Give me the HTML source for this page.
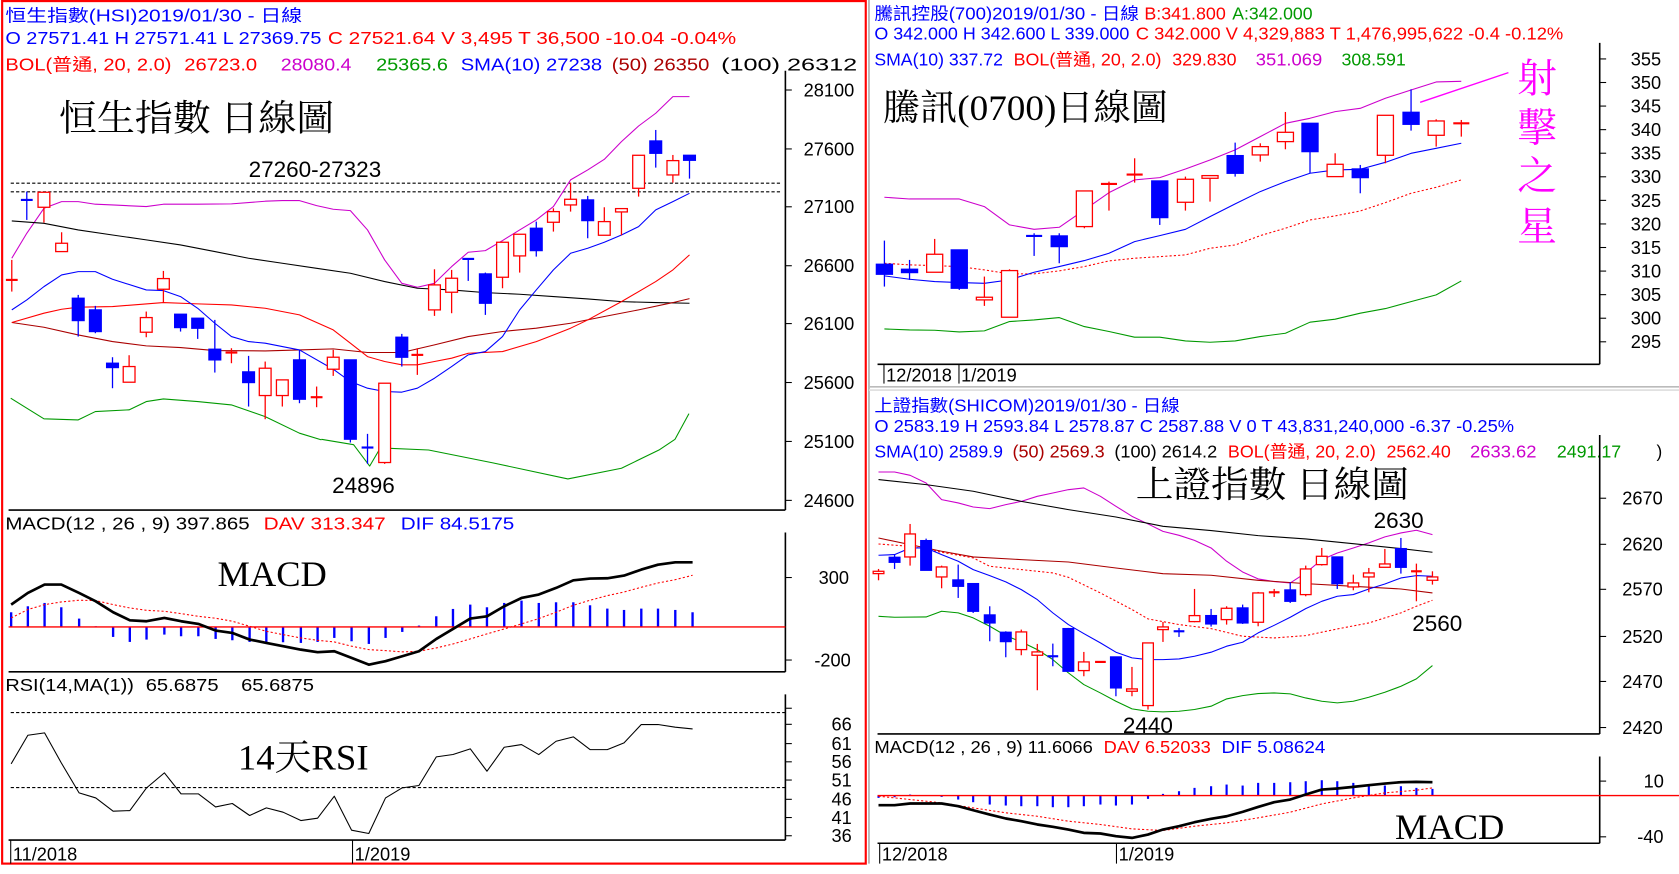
<!DOCTYPE html>
<html><head><meta charset="utf-8">
<style>
html,body{margin:0;padding:0;background:#fff;width:1679px;height:874px;overflow:hidden}
svg{display:block}
text{font-family:"Liberation Sans","Noto Sans CJK TC",sans-serif;font-size:16px}
.big{font-family:"Liberation Serif","Noto Serif CJK SC",serif;font-size:34px;fill:#000}
.star{font-family:"Liberation Serif","Noto Serif CJK SC",serif;font-size:37px;fill:#f0f}
.ax{font-size:17px;fill:#000}
</style></head><body>
<svg id="s" width="1679" height="874" viewBox="0 0 1567 815.7" xmlns="http://www.w3.org/2000/svg">
<rect x="0" y="0" width="1567" height="816" fill="#fff"/>
<rect x="2" y="1" width="806" height="805" fill="none" stroke="#f00" stroke-width="2"/>
<line x1="811" y1="0" x2="811" y2="806" stroke="#aaa" stroke-width="1.5"/>
<line x1="811" y1="361" x2="1567" y2="361" stroke="#bbb" stroke-width="1.5"/>
<line x1="811" y1="364" x2="1567" y2="364" stroke="#ddd" stroke-width="1.5"/>

<text x="5" y="20" fill="#00f" textLength="277" lengthAdjust="spacingAndGlyphs">恒生指數(HSI)2019/01/30 - 日線</text>
<text x="5" y="41" fill="#00f" textLength="295" lengthAdjust="spacingAndGlyphs">O 27571.41 H 27571.41 L 27369.75</text>
<text x="306" y="41" fill="#f00" textLength="381" lengthAdjust="spacingAndGlyphs">C 27521.64 V 3,495 T 36,500  -10.04  -0.04%</text>
<text x="5" y="66" fill="#f00" textLength="155" lengthAdjust="spacingAndGlyphs">BOL(普通, 20, 2.0)</text>
<text x="172" y="66" fill="#f00" textLength="68" lengthAdjust="spacingAndGlyphs">26723.0</text>
<text x="262" y="66" fill="#c0c" textLength="66" lengthAdjust="spacingAndGlyphs">28080.4</text>
<text x="351" y="66" fill="#090" textLength="67" lengthAdjust="spacingAndGlyphs">25365.6</text>
<text x="430" y="66" fill="#00f" textLength="132" lengthAdjust="spacingAndGlyphs">SMA(10) 27238</text>
<text x="571" y="66" fill="#a00" textLength="91" lengthAdjust="spacingAndGlyphs">(50) 26350</text>
<text x="673" y="66" fill="#000" textLength="127" lengthAdjust="spacingAndGlyphs">(100) 26312</text>
<text x="5" y="494" fill="#000" textLength="228" lengthAdjust="spacingAndGlyphs">MACD(12 , 26 , 9)  397.865</text>
<text x="246" y="494" fill="#f00" textLength="114" lengthAdjust="spacingAndGlyphs">DAV  313.347</text>
<text x="374" y="494" fill="#00f" textLength="106" lengthAdjust="spacingAndGlyphs">DIF  84.5175</text>
<text x="5" y="645" fill="#000" textLength="120" lengthAdjust="spacingAndGlyphs">RSI(14,MA(1))</text>
<text x="136" y="645" fill="#000" textLength="68" lengthAdjust="spacingAndGlyphs">65.6875</text>
<text x="225" y="645" fill="#000" textLength="68" lengthAdjust="spacingAndGlyphs">65.6875</text>

<text x="816" y="18" fill="#00f" textLength="247" lengthAdjust="spacingAndGlyphs">騰訊控股(700)2019/01/30 - 日線</text>
<text x="1068" y="18" fill="#f00" textLength="76" lengthAdjust="spacingAndGlyphs">B:341.800</text>
<text x="1150" y="18" fill="#090" textLength="75" lengthAdjust="spacingAndGlyphs">A:342.000</text>
<text x="816" y="37" fill="#00f" textLength="238" lengthAdjust="spacingAndGlyphs">O 342.000 H 342.600 L 339.000</text>
<text x="1060" y="37" fill="#f00" textLength="399" lengthAdjust="spacingAndGlyphs">C 342.000 V 4,329,883 T 1,476,995,622  -0.4  -0.12%</text>
<text x="816" y="61" fill="#00f" textLength="120" lengthAdjust="spacingAndGlyphs">SMA(10) 337.72</text>
<text x="946" y="61" fill="#f00" textLength="138" lengthAdjust="spacingAndGlyphs">BOL(普通, 20, 2.0)</text>
<text x="1094" y="61" fill="#f00" textLength="60" lengthAdjust="spacingAndGlyphs">329.830</text>
<text x="1172" y="61" fill="#c0c" textLength="62" lengthAdjust="spacingAndGlyphs">351.069</text>
<text x="1252" y="61" fill="#090" textLength="60" lengthAdjust="spacingAndGlyphs">308.591</text>

<text x="816" y="384" fill="#00f" textLength="285" lengthAdjust="spacingAndGlyphs">上證指數(SHICOM)2019/01/30 - 日線</text>
<text x="816" y="403" fill="#00f" textLength="597" lengthAdjust="spacingAndGlyphs">O 2583.19 H 2593.84 L 2578.87 C 2587.88 V 0 T 43,831,240,000  -6.37  -0.25%</text>
<text x="816" y="427" fill="#00f" textLength="120" lengthAdjust="spacingAndGlyphs">SMA(10) 2589.9</text>
<text x="945" y="427" fill="#a00" textLength="86" lengthAdjust="spacingAndGlyphs">(50) 2569.3</text>
<text x="1040" y="427" fill="#000" textLength="96" lengthAdjust="spacingAndGlyphs">(100) 2614.2</text>
<text x="1146" y="427" fill="#f00" textLength="138" lengthAdjust="spacingAndGlyphs">BOL(普通, 20, 2.0)</text>
<text x="1294" y="427" fill="#f00" textLength="60" lengthAdjust="spacingAndGlyphs">2562.40</text>
<text x="1372" y="427" fill="#c0c" textLength="62" lengthAdjust="spacingAndGlyphs">2633.62</text>
<text x="1453" y="427" fill="#090" textLength="60" lengthAdjust="spacingAndGlyphs">2491.17</text>
<text x="1546" y="427" fill="#000">)</text>
<text x="816" y="703" fill="#000" textLength="204" lengthAdjust="spacingAndGlyphs">MACD(12 , 26 , 9)  11.6066</text>
<text x="1030" y="703" fill="#f00" textLength="100" lengthAdjust="spacingAndGlyphs">DAV  6.52033</text>
<text x="1140" y="703" fill="#00f" textLength="97" lengthAdjust="spacingAndGlyphs">DIF  5.08624</text>

<text class="big" x="55" y="122" textLength="257" lengthAdjust="spacingAndGlyphs">恒生指數 日線圖</text>
<text x="232" y="165" style="font-size:21px" fill="#000">27260-27323</text>
<text x="310" y="460" style="font-size:21px" fill="#000">24896</text>
<text class="big" x="203" y="547">MACD</text>
<text class="big" x="222" y="718" textLength="122" lengthAdjust="spacingAndGlyphs">14天RSI</text>
<text class="big" x="824" y="112" textLength="266" lengthAdjust="spacingAndGlyphs">騰訊(0700)日線圖</text>
<text class="star" x="1416" y="86">射</text>
<text class="star" x="1416" y="132">擊</text>
<text class="star" x="1416" y="177">之</text>
<text class="star" x="1416" y="224">星</text>
<text class="big" x="1060" y="464" textLength="255" lengthAdjust="spacingAndGlyphs">上證指數 日線圖</text>
<text x="1282" y="493" style="font-size:21px" fill="#000">2630</text>
<text x="1318" y="589" style="font-size:21px" fill="#000">2560</text>
<text x="1048" y="684" style="font-size:21px" fill="#000">2440</text>
<text class="big" x="1302" y="783">MACD</text>

<g id="g"></g>
</svg>
<script>
var NS="http://www.w3.org/2000/svg",G=document.getElementById('g');
function el(t,a){var e=document.createElementNS(NS,t);for(var k in a)e.setAttribute(k,a[k]);G.appendChild(e);return e;}
function L(x1,y1,x2,y2,c,w,d){var o={x1:x1,y1:y1,x2:x2,y2:y2,stroke:c,'stroke-width':w||1};if(d)o['stroke-dasharray']=d;el('line',o);}
function T(x,y,s,c,cls,anchor){var e=el('text',{x:x,y:y,fill:c||'#000'});if(cls)e.setAttribute('class',cls);if(anchor)e.setAttribute('text-anchor',anchor);e.textContent=s;}
function poly(pts,fx,fy,c,w,d){var s=pts.map(function(p){return fx(p[0]).toFixed(1)+','+fy(p[1]).toFixed(1)}).join(' ');var o={points:s,fill:'none',stroke:c,'stroke-width':w||1,'stroke-linejoin':'round'};if(d)o['stroke-dasharray']=d;el('polyline',o);}
function candles(arr,fx,fy,bw){arr.forEach(function(c){var x=fx(c[0]),col=c[1]=='r'?'#f00':'#00f';
 L(x,fy(c[4]),x,fy(c[5]),col,1.2);
 if(c[2]===c[3]||Math.abs(fy(c[3])-fy(c[2]))<2){L(x-bw/2,fy(c[2]),x+bw/2,fy(c[2]),col,2);}
 else{var y1=fy(c[2]),y2=fy(c[3]);el('rect',{x:x-bw/2,y:y1,width:bw,height:y2-y1,fill:c[1]=='r'?'#fff':'#00f',stroke:col,'stroke-width':1.2});}
});}

var hx=function(z){return z/2},hy=function(z){return z*0.311};
var hsiC=[[22,'r',840,840,780,875],[50,'b',600,600,575,660],[82,'r',577,622,577,668],[115,'r',730,755,697,755],[146,'b',895,962,885,1010],[178,'b',930,995,918,1000],[210,'b',1090,1103,1072,1165],[241,'r',1100,1147,1066,1147],[273,'r',953,997,935,1012],[305,'r',836,868,813,907],[337,'b',943,983,943,995],[369,'b',955,985,955,1017],[401,'b',1048,1080,960,1118],[432,'r',1058,1058,1045,1090],[464,'b',1116,1148,1068,1220],[495,'r',1105,1187,1085,1258],[527,'r',1140,1187,1140,1220],[559,'b',1080,1198,1050,1210],[591,'r',1192,1192,1160,1222],[622,'r',1072,1108,1050,1128],[654,'b',1080,1318,1080,1328],[686,'b',1343,1343,1302,1392],[718,'r',1150,1388,1150,1392],[750,'b',1012,1072,1002,1100],[779,'r',1065,1065,1045,1125],[811,'r',855,930,808,948],[843,'r',835,877,810,940],[874,'b',777,777,775,843],[906,'b',822,910,818,945],[938,'r',727,832,725,865],[970,'r',703,768,703,818],[1001,'b',685,752,665,770],[1033,'r',635,667,625,695],[1065,'r',598,615,548,635],[1097,'b',600,662,588,715],[1128,'r',665,706,622,706],[1160,'r',626,636,626,706],[1192,'r',466,565,466,590],[1224,'b',423,460,390,503],[1256,'r',482,525,465,548],[1287,'b',466,481,466,536]];
L(733,66,733,476,'#000',1.5);L(8,476,733,476,'#000',1.5);
[[28100,84],[27600,139],[27100,193],[26600,248],[26100,302],[25600,357],[25100,412],[24600,467]].forEach(function(a){L(733,a[1],739,a[1],'#000',1);T(750,a[1]+6,String(a[0]),'#000','ax');});
L(10,171,730,171,'#000',1,'3,2');L(10,179,730,179,'#000',1,'3,2');
poly([[22,775],[50,700],[82,625],[115,605],[146,605],[178,613],[210,615],[273,620],[305,613],[369,613],[432,612],[495,604],[527,602],[559,602],[591,617],[622,628],[654,632],[686,690],[718,780],[750,850],[779,862],[811,850],[843,800],[874,757],[906,752],[938,722],[970,690],[1001,660],[1033,620],[1065,540],[1097,510],[1128,478],[1160,425],[1192,378],[1224,340],[1256,290],[1287,290]],hx,hy,'#c0c');
poly([[22,663],[82,670],[146,690],[210,705],[273,720],[337,735],[401,755],[464,775],[527,790],[591,805],[654,820],[718,845],[779,865],[843,870],[906,878],[970,883],[1033,890],[1097,897],[1160,905],[1224,908],[1287,910]],hx,hy,'#000');
poly([[22,968],[82,982],[146,1005],[210,1025],[273,1038],[337,1043],[401,1052],[495,1053],[559,1050],[622,1047],[686,1058],[750,1058],[811,1035],[874,1010],[938,995],[1001,985],[1065,970],[1128,950],[1192,930],[1256,908],[1287,896]],hx,hy,'#a00');
poly([[22,968],[82,940],[115,928],[146,922],[210,920],[305,908],[369,912],[432,915],[495,925],[559,945],[622,990],[654,1030],[686,1070],[718,1085],[750,1095],[779,1095],[811,1085],[843,1075],[874,1060],[938,1055],[1001,1025],[1033,1005],[1065,985],[1097,960],[1160,905],[1224,845],[1256,810],[1287,765]],hx,hy,'#f00');
poly([[22,930],[50,900],[82,860],[115,825],[146,815],[178,815],[210,838],[273,870],[305,872],[337,890],[369,925],[401,970],[432,1010],[464,1025],[495,1030],[559,1050],[622,1108],[654,1145],[686,1165],[718,1175],[750,1177],[779,1165],[811,1135],[843,1100],[874,1065],[906,1055],[938,1010],[970,930],[1001,870],[1033,810],[1065,760],[1097,745],[1128,727],[1160,705],[1192,680],[1224,630],[1256,605],[1287,580]],hx,hy,'#00f');
poly([[20,1195],[50,1225],[82,1257],[146,1260],[178,1235],[241,1230],[273,1205],[305,1197],[369,1205],[432,1215],[495,1250],[559,1300],[600,1320]],hx,hy,'#090');
poly([[300,410],[330,415],[345,435],[355,418],[400,420],[460,432],[530,447],[580,437],[615,420],[630,410],[643,386]],function(x){return x},function(y){return y},'#090');
candles(hsiC,hx,hy,11);

var mx=function(z){return z*0.52},my=function(z){return 401+z*0.311};
L(733,497,733,627,'#000',1.5);L(8,627,733,627,'#000',1.5);
L(733,539,739,539,'#000');T(764,545,'300','#000','ax');
L(733,616,739,616,'#000');T(760,622,'-200','#000','ax');
var bx=[20,50,80,110,142,172,203,233,263,295,325,356,387,417,448,478,508,540,570,600,631,662,692,722,752,783,813,844,874,905,936,967,998,1029,1059,1090,1120,1151,1181,1212,1243];
var bv=[548,530,520,533,567,590,622,637,630,615,620,620,628,632,637,637,638,640,637,625,635,643,625,607,588,560,538,525,533,520,513,520,518,518,527,537,541,537,537,541,548];
bx.forEach(function(x,i){L(mx(x),my(592),mx(x),my(bv[i]),'#00f',2.2);});
L(8,my(592),733,my(592),'#f00',1.3);
poly([[20,565],[50,540],[80,525],[110,517],[142,512],[172,513],[203,525],[233,535],[263,542],[295,545],[325,552],[356,560],[387,566],[417,575],[448,590],[478,605],[508,615],[540,625],[570,632],[600,637],[631,650],[662,660],[692,663],[722,667],[752,665],[783,655],[813,643],[844,628],[874,613],[905,598],[936,583],[967,567],[998,548],[1029,527],[1059,512],[1090,498],[1120,487],[1151,473],[1181,460],[1212,450],[1243,437]],mx,my,'#f00',1,'2,2');
poly([[20,525],[50,490],[80,465],[110,465],[142,490],[172,515],[203,548],[233,572],[263,575],[295,565],[325,575],[356,583],[387,603],[417,610],[448,630],[478,640],[508,650],[540,660],[570,668],[600,665],[631,685],[662,705],[692,695],[722,680],[752,665],[783,628],[813,598],[844,567],[874,560],[905,530],[936,505],[967,495],[998,475],[1029,452],[1059,447],[1090,446],[1120,438],[1151,420],[1181,405],[1212,398],[1243,398]],mx,my,'#000',2.5);
L(733,648,733,784,'#000',1.5);L(8,784,733,784,'#000',1.5);
L(733,661,739,661,'#000');
[[66,676],[61,694],[56,711],[51,728],[46,746],[41,763],[36,780]].forEach(function(a){L(733,a[1],739,a[1],'#000');T(776,a[1]+6,String(a[0]),'#000','ax');});
L(10,665,733,665,'#000',1,'3,2');L(10,735,733,735,'#000',1,'3,2');
poly([[20,1003],[50,917],[80,910],[110,1000],[142,1090],[172,1105],[203,1145],[233,1143],[263,1075],[295,1030],[325,1093],[356,1093],[387,1132],[417,1122],[448,1158],[478,1135],[508,1148],[540,1173],[570,1166],[600,1100],[631,1202],[662,1212],[692,1105],[722,1075],[752,1068],[783,982],[813,975],[844,958],[874,1025],[905,953],[936,945],[967,975],[998,935],[1029,922],[1059,960],[1090,960],[1120,940],[1151,885],[1181,885],[1212,893],[1243,898]],mx,my,'#000',1);
L(10,784,10,806,'#000');L(329,784,329,806,'#000');
T(12,803,'11/2018','#000','ax');T(331,803,'1/2019','#000','ax');

var tx=function(z){return 784+z*0.499},ty=function(z){return z*0.311};
L(1493,40,1493,340,'#000',1.5);L(819,340,1493,340,'#000',1.5);
[355,350,345,340,335,330,325,320,315,310,305,300,295].forEach(function(v,i){var y=55+i*22;L(1493,y,1499,y,'#000');T(1522,y+6,String(v),'#000','ax');});
L(825,340,825,358,'#000');L(895,340,895,358,'#000');
T(827,356,'12/2018','#000','ax');T(897,356,'1/2019','#000','ax');
poly([[83,592],[130,597],[177,597],[223,597],[270,620],[317,675],[363,688],[410,682],[457,630],[503,578],[551,540],[598,533],[646,507],[692,480],[739,450],[786,410],[833,370],[879,355],[926,335],[973,325],[1020,295],[1068,270],[1115,246],[1162,244]],tx,ty,'#c0c');
poly([[83,790],[130,795],[177,797],[223,800],[270,810],[317,822],[363,822],[410,813],[457,800],[503,783],[551,775],[598,770],[646,765],[692,745],[739,735],[786,707],[833,685],[879,660],[926,648],[973,633],[1020,608],[1068,580],[1115,562],[1162,540]],tx,ty,'#f00',1,'2,2');
poly([[83,828],[130,838],[177,845],[223,848],[270,850],[317,840],[363,817],[410,800],[457,782],[503,760],[551,725],[598,707],[646,688],[692,650],[739,612],[786,575],[833,545],[879,520],[926,510],[973,508],[1020,487],[1068,460],[1115,445],[1162,430]],tx,ty,'#00f');
poly([[83,987],[130,990],[177,991],[223,996],[270,993],[317,965],[363,960],[410,953],[457,980],[503,995],[551,1012],[598,1012],[646,1023],[692,1027],[739,1023],[786,1010],[833,1000],[879,967],[926,958],[973,940],[1020,926],[1068,905],[1115,885],[1162,843]],tx,ty,'#090');
poly([[1085,307],[1250,218]],tx,ty,'#f0f',1.3);
candles([[83,'b',793,823,722,860],[130,'b',808,818,780,840],[177,'r',763,817,717,817],[223,'b',750,865,750,870],[270,'r',892,900,830,918],[317,'r',812,952,808,952],[363,'b',708,712,700,768],[410,'b',708,740,700,790],[457,'r',573,680,573,685],[503,'r',552,552,545,632],[551,'r',524,524,475,548],[598,'b',543,653,543,675],[646,'r',538,607,530,632],[692,'r',527,535,527,605],[739,'b',467,520,428,530],[786,'r',440,465,430,485],[833,'r',397,425,336,448],[879,'b',370,455,370,520],[926,'r',493,530,460,530],[973,'b',507,533,495,580],[1020,'r',346,466,346,490],[1068,'b',337,373,268,392],[1115,'r',363,406,358,440],[1162,'r',370,370,360,410]],tx,ty,15);

var sx=tx,sy=function(z){return 401+z*0.311};
L(1493,406,1493,685,'#000',1.5);L(819,685,1493,685,'#000',1.5);
[[2670,465],[2620,508],[2570,550],[2520,594],[2470,636],[2420,679]].forEach(function(a){L(1493,a[1],1499,a[1],'#000');T(1514,a[1]+6,String(a[0]),'#000','ax');});
poly([[72,127],[102,127],[131,137],[161,160],[190,210],[221,220],[249,232],[280,237],[310,225],[339,215],[369,200],[398,190],[427,180],[456,175],[487,200],[516,230],[546,260],[576,283],[604,305],[634,317],[663,332],[694,355],[723,395],[753,427],[782,448],[812,456],[842,460],[871,430],[901,390],[930,370],[960,355],[989,340],[1019,322],[1049,310],[1078,302],[1108,315]],sx,sy,'#c0c');
poly([[72,150],[161,165],[249,185],[339,215],[427,240],[516,262],[604,290],[694,303],[782,318],[871,328],[960,342],[1049,357],[1108,368]],sx,sy,'#000');
poly([[72,325],[131,345],[190,365],[249,382],[339,390],[427,397],[516,415],[604,432],[694,437],[782,452],[871,462],[960,470],[1049,478],[1108,490]],sx,sy,'#a00');
poly([[72,343],[131,350],[190,368],[249,385],[280,410],[339,420],[398,430],[427,443],[487,490],[546,540],[576,568],[634,585],[694,597],[753,620],[812,625],[871,618],[930,598],[989,580],[1049,550],[1078,530],[1108,512]],sx,sy,'#f00',1,'2,2');
poly([[72,377],[102,375],[131,355],[161,355],[190,375],[221,395],[249,420],[280,438],[310,457],[339,480],[369,510],[398,550],[427,585],[456,612],[487,640],[516,668],[546,685],[576,690],[604,690],[634,688],[663,680],[694,668],[723,650],[753,638],[782,610],[812,587],[842,563],[871,537],[901,515],[930,500],[960,495],[989,478],[1019,463],[1049,445],[1078,438],[1108,440]],sx,sy,'#00f');
poly([[72,560],[102,563],[161,562],[190,545],[221,550],[249,565],[280,590],[310,618],[339,637],[369,660],[398,690],[427,730],[456,765],[487,790],[516,815],[546,838],[576,845],[604,847],[634,845],[663,840],[694,830],[723,808],[753,798],[782,792],[812,790],[842,793],[871,805],[901,815],[930,820],[960,815],[989,803],[1019,788],[1049,770],[1078,748],[1108,708]],sx,sy,'#090');
candles([[72,'r',425,432,418,452],[102,'b',383,398,375,418],[131,'r',313,382,283,408],[161,'b',333,422,327,422],[190,'r',412,442,408,476],[221,'b',451,470,405,505],[249,'b',462,545,462,550],[280,'b',556,580,530,635],[310,'b',608,636,605,683],[339,'r',607,660,600,677],[369,'r',667,677,643,782],[398,'b',680,680,642,710],[427,'b',597,725,595,725],[456,'r',697,723,667,740],[487,'r',697,697,697,697],[516,'b',682,775,682,800],[546,'r',778,785,712,800],[576,'r',640,828,640,840],[604,'r',592,600,577,637],[634,'b',605,605,595,622],[663,'r',558,576,478,578],[694,'b',558,583,538,591],[723,'r',536,570,530,585],[753,'b',535,580,525,583],[782,'r',490,578,487,590],[812,'r',488,488,478,502],[842,'b',481,515,458,520],[871,'r',418,495,408,500],[901,'r',380,405,355,408],[930,'b',382,462,382,478],[960,'r',460,472,435,482],[989,'r',430,442,415,488],[1019,'r',403,413,358,413],[1049,'b',357,413,325,432],[1078,'r',425,425,402,515],[1108,'r',442,452,425,465]],sx,sy,10);
L(1493,706,1493,787,'#000',1.5);L(819,787,1493,787,'#000',1.5);
L(1493,729,1499,729,'#000');T(1534,735,'10','#000','ax');
L(1493,781,1499,781,'#000');T(1528,787,'-40','#000','ax');
var sbx=[72,102,131,161,190,221,249,280,310,339,369,398,427,456,487,516,546,576,604,634,663,694,723,753,782,812,842,871,901,930,960,989,1019,1049,1078,1108];
var sbv=[1105,1103,1095,1098,1102,1110,1118,1125,1128,1130,1130,1133,1133,1130,1125,1128,1125,1108,1093,1085,1075,1070,1065,1068,1060,1060,1058,1055,1052,1055,1060,1065,1068,1070,1075,1078];
sbx.forEach(function(x,i){L(sx(x),sy(1098),sx(x),sy(sbv[i]),'#00f',2);});
L(819,sy(1098),1567,sy(1098),'#f00',1.3);
poly([[72,1100],[131,1110],[190,1120],[249,1135],[310,1150],[369,1160],[427,1175],[487,1185],[546,1198],[604,1203],[663,1190],[723,1180],[782,1165],[842,1148],[901,1123],[960,1105],[1019,1090],[1078,1082],[1108,1075]],sx,sy,'#f00',1,'2,2');
poly([[72,1127],[102,1127],[131,1122],[190,1122],[221,1130],[249,1142],[280,1155],[310,1167],[339,1175],[369,1185],[398,1192],[427,1200],[456,1210],[487,1212],[516,1220],[546,1225],[576,1215],[604,1200],[634,1190],[663,1178],[694,1168],[723,1160],[753,1147],[782,1132],[812,1118],[842,1110],[871,1095],[901,1080],[930,1077],[960,1072],[989,1067],[1019,1062],[1049,1058],[1078,1057],[1108,1058]],sx,sy,'#000',2.5);
L(821,787,821,806,'#000');L(1042,787,1042,806,'#000');
T(823,803,'12/2018','#000','ax');T(1044,803,'1/2019','#000','ax');
</script>
</body></html>
